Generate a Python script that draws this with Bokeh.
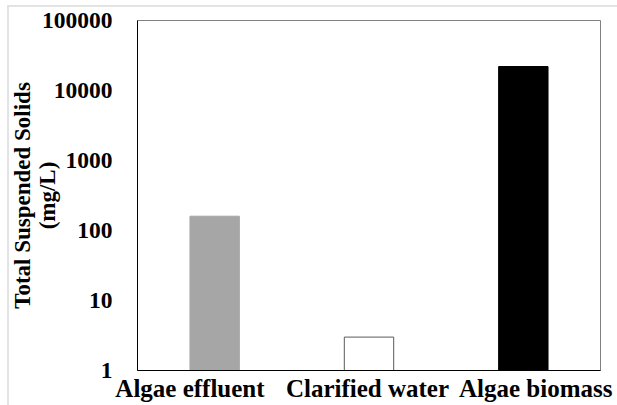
from bokeh.plotting import figure
from bokeh.models import Range1d, FixedTicker, PrintfTickFormatter, ColumnDataSource
from bokeh.embed import file_html
from bokeh.resources import INLINE

# data
categories = ["Algae effluent", "Clarified water", "Algae biomass"]
tss_values = [160, 3, 22000]
y_ticks = [1, 10, 100, 1000, 10000, 100000]
y_title = "Total Suspended Solids\n(mg/L)"

# styles
fill_colors = ["#a6a6a6", "#ffffff", "#000000"]
line_colors = ["#a6a6a6", "#595959", "#000000"]
label_shift = [-0.16, -0.01, 0.08]  # Excel-like label nudges near edges
FONT = "Liberation Serif"
CHART_EDGE = "#e3e3e3"

xs = [i + 0.5 for i in range(len(categories))]
src = ColumnDataSource(dict(x=xs, top=tss_values, bottom=[1] * len(xs),
                            fill=fill_colors, line=line_colors))

p = figure(width=617, height=405, output_backend="svg", toolbar_location=None,
           y_axis_type="log", x_range=Range1d(0, 3), y_range=Range1d(1, 100000),
           min_border_left=137, min_border_right=17, min_border_top=20, min_border_bottom=35)

p.vbar(x="x", top="top", bottom="bottom", width=0.32, fill_color="fill",
       line_color="line", line_width=1, source=src)

p.grid.visible = False
p.outline_line_color = "#808080"
p.outline_line_width = 1
p.background_fill_color = "white"
p.border_fill_alpha = 0
# faint chart-area border (top and left edges), painted behind the transparent canvas border
p.styles = {
    "background": (f"linear-gradient({CHART_EDGE}, {CHART_EDGE}) 7px 5px / 100% 2px no-repeat, "
                   f"linear-gradient({CHART_EDGE}, {CHART_EDGE}) 7px 5px / 2px 100% no-repeat, white"),
}

ya = p.yaxis[0]
ya.ticker = FixedTicker(ticks=y_ticks, minor_ticks=[])
ya.formatter = PrintfTickFormatter(format="%d")
ya.major_tick_in = 0
ya.major_tick_out = 0
ya.minor_tick_in = 0
ya.minor_tick_out = 0
ya.axis_line_color = "black"
ya.major_label_standoff = 25
ya.major_label_text_font = FONT
ya.major_label_text_font_style = "bold"
ya.major_label_text_font_size = "23.5px"
ya.major_label_text_color = "black"
ya.axis_label = y_title
ya.axis_label_standoff = -21
ya.axis_label_text_font = FONT
ya.axis_label_text_font_style = "bold"
ya.axis_label_text_font_size = "23px"
ya.axis_label_text_color = "black"
ya.axis_label_text_line_height = 1.0

xa = p.xaxis[0]
tick_pos = [x + s for x, s in zip(xs, label_shift)]
xa.ticker = FixedTicker(ticks=tick_pos, minor_ticks=[])
xa.major_label_overrides = {t: c for t, c in zip(tick_pos, categories)}
xa.major_tick_in = 0
xa.major_tick_out = 0
xa.minor_tick_in = 0
xa.minor_tick_out = 0
xa.axis_line_color = "black"
xa.major_label_standoff = 4
xa.major_label_text_font = FONT
xa.major_label_text_font_style = "bold"
xa.major_label_text_font_size = "25px"
xa.major_label_text_color = "black"

open("out.html", "w").write(file_html(p, INLINE))
